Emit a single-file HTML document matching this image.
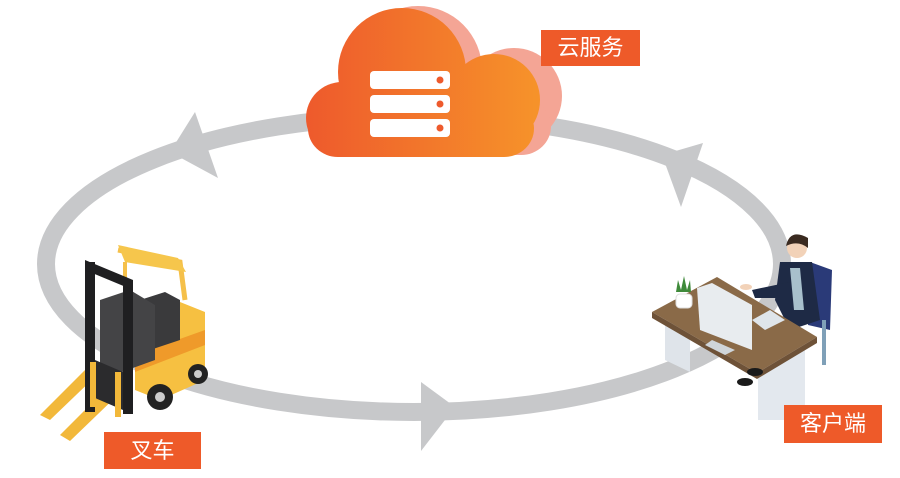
<!DOCTYPE html>
<html><head><meta charset="utf-8"><style>
body{margin:0;background:#fff;}
.lbl{position:absolute;background:#ee5a29;color:#fff;font-family:"Liberation Sans","Noto Sans CJK SC",sans-serif;font-size:22px;text-align:center;}
</style></head><body>
<div style="position:relative;width:900px;height:478px;overflow:hidden;">
<svg width="900" height="478" viewBox="0 0 900 478" style="position:absolute;left:0;top:0">
<defs>
<linearGradient id="cg" gradientUnits="userSpaceOnUse" x1="308" x2="535" y1="0" y2="0">
<stop offset="0" stop-color="#ee5a2c"/><stop offset="1" stop-color="#f6922a"/>
</linearGradient>
</defs>
<ellipse cx="414" cy="264" rx="368" ry="148" fill="none" stroke="#c7c8ca" stroke-width="18"/>
<polygon points="195,112 218,178 170,152" fill="#c7c8ca"/>
<polygon points="703,143 681,207 662,155" fill="#c7c8ca"/>
<polygon points="421,382 421,451 455,407" fill="#c7c8ca"/>
<!-- cloud shadow -->
<g fill="#f4a595" transform="translate(16,-2)">
<circle cx="340" cy="117" r="36"/><circle cx="402" cy="72" r="64"/><circle cx="498" cy="98" r="48"/>
<rect x="310" y="100" width="225" height="57" rx="30"/>
</g>
<g fill="url(#cg)">
<circle cx="342" cy="118" r="36"/><circle cx="402" cy="72" r="64"/><circle cx="494" cy="100" r="46"/>
<rect x="308" y="100" width="226" height="57" rx="30"/>
<rect x="330" y="90" width="180" height="40"/>
</g>
<g fill="#fff">
<rect x="370" y="71" width="80" height="18" rx="4"/>
<rect x="370" y="95" width="80" height="18" rx="4"/>
<rect x="370" y="119" width="80" height="18" rx="4"/>
</g>
<g fill="#ee5a2c"><circle cx="440" cy="80" r="3.5"/><circle cx="440" cy="104" r="3.5"/><circle cx="440" cy="128" r="3.5"/></g>
<!-- forklift -->
<g>
<polygon points="90,365 40,415 50,420 100,372" fill="#f2b83a"/>
<polygon points="115,380 60,435 70,441 125,388" fill="#f2b83a"/>
<path d="M118,250 L180,262 L185,300" fill="none" stroke="#f5c04a" stroke-width="5"/>
<polygon points="118,245 178,258 186,272 125,262" fill="#f6c64c"/>
<path d="M125,262 L125,330" stroke="#f5c04a" stroke-width="4"/>
<polygon points="135,320 175,300 205,312 205,380 160,400 135,390" fill="#f6c041"/>
<polygon points="135,355 205,330 205,345 135,372" fill="#ef9a2a"/>
<polygon points="140,300 165,292 180,300 180,340 150,350" fill="#3a3a3c"/>
<polygon points="100,300 130,290 155,305 155,360 100,380" fill="#444446"/>
<rect x="85" y="262" width="10" height="150" fill="#1f1f21"/>
<rect x="123" y="282" width="10" height="132" fill="#1f1f21"/>
<polygon points="85,260 133,280 133,290 85,270" fill="#1f1f21"/>
<polygon points="95,360 123,372 123,410 95,398" fill="#2b2b2d"/>
<rect x="90" y="362" width="6" height="45" fill="#f2b83a"/>
<rect x="115" y="372" width="6" height="45" fill="#f2b83a"/>
<circle cx="160" cy="397" r="13" fill="#222"/><circle cx="160" cy="397" r="5" fill="#ccc"/>
<circle cx="198" cy="374" r="10" fill="#222"/><circle cx="198" cy="374" r="4" fill="#ccc"/>
</g>
<!-- desk -->
<g>
<polygon points="665,320 690,330 690,372 665,360" fill="#dfe4ea"/>
<polygon points="758,375 805,350 805,420 758,420" fill="#e3e8ee"/>
<polygon points="810,262 832,270 830,330 808,325" fill="#2a3a78"/>
<rect x="822" y="320" width="4" height="45" fill="#7fa0b8"/>
<polygon points="780,262 812,262 820,320 790,330 775,300" fill="#1e2a45"/>
<polygon points="790,268 800,268 804,310 794,310" fill="#a8c0cc"/>
<circle cx="797" cy="248" r="10" fill="#f2d2b8"/>
<path d="M786,246 Q790,228 808,238 L808,248 Q798,240 786,246Z" fill="#3a2a20"/>
<polygon points="752,290 790,282 790,298 755,298" fill="#1e2a45"/>
<ellipse cx="746" cy="287" rx="6" ry="3" fill="#f2d2b8"/>
<polygon points="652,312 717,277 817,337 757,373" fill="#8a6a48"/>
<polygon points="652,312 757,373 757,379 652,318" fill="#6e5238"/>
<polygon points="757,373 817,337 817,343 757,379" fill="#6e5238"/>
<polygon points="752,320 770,310 785,320 765,330" fill="#dfe5ea"/>
<polygon points="697,288 712,283 752,305 752,350 700,330" fill="#e8ecef"/>
<polygon points="712,340 735,350 725,355 705,345" fill="#cfd5da"/>
<path d="M676,292 l2,-12 l3,10 l3,-14 l3,14 l3,-10 l1,12z" fill="#3f8a3a"/>
<rect x="676" y="294" width="16" height="14" rx="4" fill="#fff" stroke="#ddd"/>
<ellipse cx="745" cy="382" rx="8" ry="4" fill="#1a1a1a"/>
<ellipse cx="755" cy="372" rx="8" ry="4" fill="#1a1a1a"/>
</g>
</svg>
<div class="lbl" style="left:541px;top:30px;width:99px;height:36px;line-height:36px;">云服务</div>
<div class="lbl" style="left:104px;top:432px;width:97px;height:37px;line-height:37px;">叉车</div>
<div class="lbl" style="left:784px;top:405px;width:98px;height:38px;line-height:38px;">客户端</div>
</div>
</body></html>
